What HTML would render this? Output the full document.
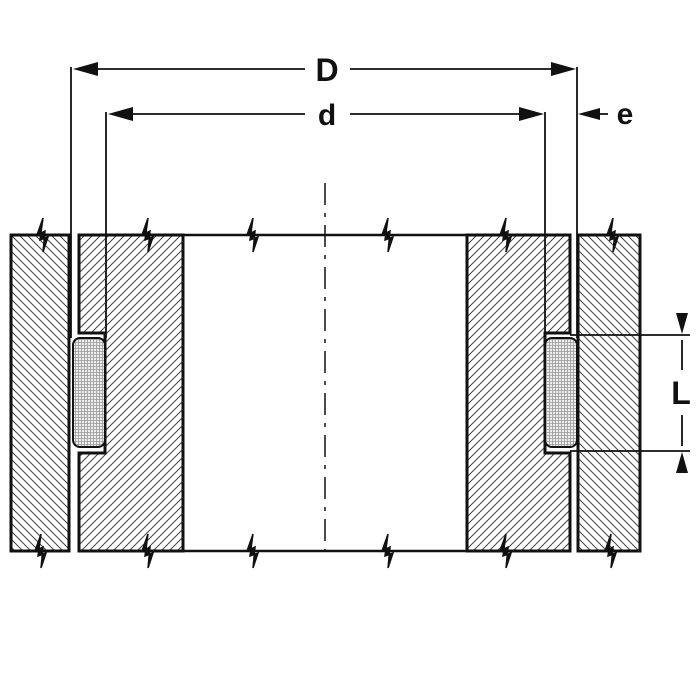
<!DOCTYPE html>
<html><head><style>body{margin:0;background:#fff}svg{display:block}</style></head><body>
<svg width="700" height="700" viewBox="0 0 700 700" xmlns="http://www.w3.org/2000/svg">
<defs>
<pattern id="hb" width="8" height="8" patternUnits="userSpaceOnUse">
<path d="M-1,-1 L9,9 M-9,-1 L1,9 M7,-1 L17,9" stroke="#444" stroke-width="1"/>
</pattern>
<pattern id="hf" width="8" height="8" patternUnits="userSpaceOnUse">
<path d="M-1,9 L9,-1 M-9,9 L1,-1 M7,9 L17,-1" stroke="#444" stroke-width="1"/>
</pattern>
<pattern id="gr" width="3" height="3" patternUnits="userSpaceOnUse">
<rect width="3" height="3" fill="#eee"/>
<path d="M0,0.5H3M0.5,0V3" stroke="#999" stroke-width="0.8"/>
</pattern>
</defs>
<g stroke="#111" stroke-width="3" fill="url(#hb)">
<rect x="11" y="235" width="58" height="316"/>
<rect x="578" y="235" width="62" height="316"/>
</g>
<g stroke="#111" stroke-width="3" fill="url(#hf)">
<path d="M79,235 H183 V551 H79 V453 H105 V333 H79 Z"/>
<path d="M467,235 H570 V333 H545 V453 H570 V551 H467 Z"/>
</g>
<rect x="73" y="338" width="32" height="109" rx="7" fill="url(#gr)" stroke="#111" stroke-width="2"/>
<rect x="545" y="338" width="32" height="109" rx="7" fill="url(#gr)" stroke="#111" stroke-width="2"/>
<g stroke="#111" stroke-width="2.5">
<line x1="183" y1="235" x2="467" y2="235"/>
<line x1="183" y1="551" x2="467" y2="551"/>
</g>
<g fill="#111" stroke="#111" stroke-width="1.5" stroke-linejoin="miter">
<path transform="translate(40,235)" d="M3,-17 L-3,0 L5,-4 L3,17 L8,2 L0,5 Z"/>
<path transform="translate(145,235)" d="M3,-17 L-3,0 L5,-4 L3,17 L8,2 L0,5 Z"/>
<path transform="translate(250,235)" d="M3,-17 L-3,0 L5,-4 L3,17 L8,2 L0,5 Z"/>
<path transform="translate(385,235)" d="M3,-17 L-3,0 L5,-4 L3,17 L8,2 L0,5 Z"/>
<path transform="translate(503,235)" d="M3,-17 L-3,0 L5,-4 L3,17 L8,2 L0,5 Z"/>
<path transform="translate(610,235)" d="M3,-17 L-3,0 L5,-4 L3,17 L8,2 L0,5 Z"/>
<path transform="translate(38,551)" d="M3,-17 L-3,0 L5,-4 L3,17 L8,2 L0,5 Z"/>
<path transform="translate(145,551)" d="M3,-17 L-3,0 L5,-4 L3,17 L8,2 L0,5 Z"/>
<path transform="translate(250,551)" d="M3,-17 L-3,0 L5,-4 L3,17 L8,2 L0,5 Z"/>
<path transform="translate(385,551)" d="M3,-17 L-3,0 L5,-4 L3,17 L8,2 L0,5 Z"/>
<path transform="translate(503,551)" d="M3,-17 L-3,0 L5,-4 L3,17 L8,2 L0,5 Z"/>
<path transform="translate(608,551)" d="M3,-17 L-3,0 L5,-4 L3,17 L8,2 L0,5 Z"/>
</g>
<line x1="325" y1="183" x2="325" y2="551" stroke="#111" stroke-width="1.5" stroke-dasharray="22,8,4,8"/>
<g stroke="#111" stroke-width="1.8" fill="none">
<line x1="71" y1="67" x2="71" y2="338"/>
<line x1="577" y1="67" x2="577" y2="338"/>
<line x1="106" y1="112" x2="106" y2="338"/>
<line x1="545" y1="112" x2="545" y2="338"/>
<line x1="80" y1="69" x2="305" y2="69"/>
<line x1="350" y1="69" x2="568" y2="69"/>
<line x1="115" y1="114" x2="305" y2="114"/>
<line x1="350" y1="114" x2="536" y2="114"/>
<line x1="586" y1="114" x2="608" y2="114"/>
<line x1="570" y1="335" x2="690" y2="335"/>
<line x1="570" y1="451" x2="690" y2="451"/>
<line x1="682" y1="340" x2="682" y2="370"/>
<line x1="682" y1="415" x2="682" y2="446"/>
</g>
<g fill="#111">
<path d="M73,69 L98,62 L98,76 Z"/>
<path d="M576,69 L551,62 L551,76 Z"/>
<path d="M108,114 L133,107 L133,121 Z"/>
<path d="M544,114 L519,107 L519,121 Z"/>
<path d="M578,114 L600,108 L600,120 Z"/>
<path d="M682,334 L676,313 L688,313 Z"/>
<path d="M682,452 L676,473 L688,473 Z"/>
</g>
<g font-family="Liberation Sans, sans-serif" font-weight="bold" fill="#111">
<text x="327" y="81" font-size="32" text-anchor="middle">D</text>
<text x="327" y="125" font-size="30" text-anchor="middle">d</text>
<text x="625" y="124" font-size="30" text-anchor="middle">e</text>
<text x="681" y="404" font-size="32" text-anchor="middle">L</text>
</g>
</svg>
</body></html>
